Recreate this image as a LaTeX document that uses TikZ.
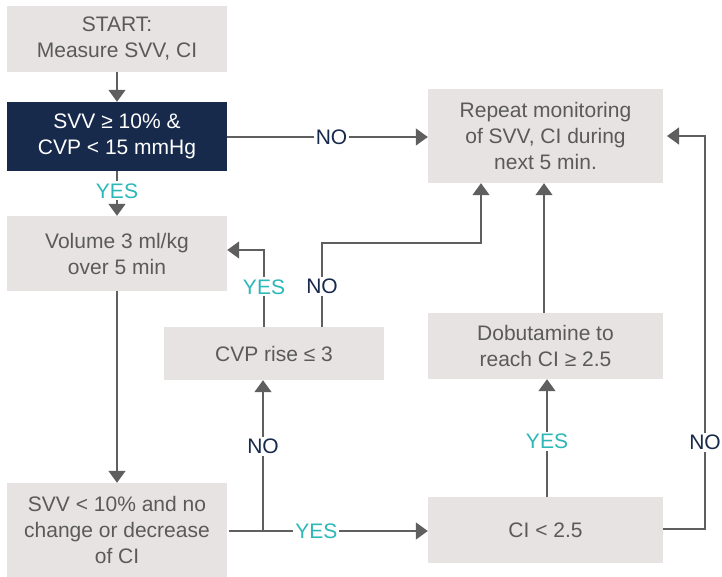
\documentclass[tikz,border=0pt]{standalone}
\usepackage{fontspec}
\setmainfont{Liberation Sans}
\usetikzlibrary{arrows.meta}
\definecolor{boxgray}{HTML}{E8E3E3}
\definecolor{navy}{HTML}{172A4C}
\definecolor{txtgray}{HTML}{5A5A5A}
\definecolor{linegray}{HTML}{5F5F5F}
\definecolor{teal}{HTML}{2DB8B8}
\tikzset{
  box/.style={rectangle, fill=boxgray, text=txtgray, align=center, inner sep=0pt,
    font=\fontsize{21}{26}\selectfont},
  darkbox/.style={box, fill=navy, text=white},
  conn/.style={draw=linegray, line width=1.4pt},
  arr/.style={conn, -{Triangle[width=17pt,length=12pt]}},
  yes/.style={fill=white, text=teal, inner sep=2pt, font=\fontsize{21}{24}\selectfont},
  no/.style={fill=white, text=navy, inner sep=2pt, font=\fontsize{21}{24}\selectfont}
}
\begin{document}
\begin{tikzpicture}[x=1pt,y=-1pt]
\useasboundingbox (0,0) rectangle (722,577);

% boxes
\node[box, minimum width=220pt, minimum height=66pt] (start) at (117,39) {START:\\Measure SVV, CI};
\node[darkbox, minimum width=220pt, minimum height=69pt] (svv) at (117,136.5) {SVV ≥ 10\% \&\\CVP < 15 mmHg};
\node[box, minimum width=220pt, minimum height=75pt] (vol) at (117,253.5) {Volume 3 ml/kg\\over 5 min};
\node[box, minimum width=220pt, minimum height=53pt] (cvp) at (274,353.5) {CVP rise ≤ 3};
\node[box, minimum width=220pt, minimum height=94pt] (low) at (117,530) {SVV < 10\% and no\\change or decrease\\of CI};
\node[box, minimum width=235pt, minimum height=66pt] (ci) at (545.5,530) {CI < 2.5};
\node[box, minimum width=235pt, minimum height=66pt] (dob) at (545.5,346) {Dobutamine to\\reach CI ≥ 2.5};
\node[box, minimum width=235pt, minimum height=94pt] (rep) at (545.5,136) {Repeat monitoring\\of SVV, CI during\\next 5 min.};

% routing points
\coordinate (jn) at (263,531);
\coordinate (lowout) at (229,531);
\coordinate (ciout) at (705,529);
\coordinate (repin) at (667,136);

% vertical flow on the left
\draw[arr] (start) -- (svv);
\draw[arr] (svv) -- node[yes, pos=0.44] {YES} (vol);
\draw[arr] (vol) -- (low);

% SVV test: NO branch
\draw[arr] (svv.east |- 0,137) -- node[no, pos=0.52] {NO} (rep.west |- 0,137);

% CVP test branches
\draw[arr] (264,0 |- cvp.north) -- node[yes, pos=0.52] {YES} (264,250) -- (vol.east |- 0,250);
\draw[arr] (322,0 |- cvp.north) -- node[no, pos=0.48] {NO} (322,243) -- (481,243) -- (481,0 |- rep.south);

% from the lower left box
\draw[arr] (lowout) -- node[yes, pos=0.44] {YES} (ci.west |- 0,531);
\draw[arr] (jn) -- node[no, pos=0.56] {NO} (263,0 |- cvp.south);

% CI test branches
\draw[arr] (547,0 |- ci.north) -- node[yes, pos=0.47] {YES} (547,0 |- dob.south);
\draw[arr] (544,0 |- dob.north) -- (544,0 |- rep.south);
\draw[arr] (ci.east |- ciout) -- (ciout) -- node[no, pos=0.22] {NO} (705,136) -- (repin);
\end{tikzpicture}
\end{document}
